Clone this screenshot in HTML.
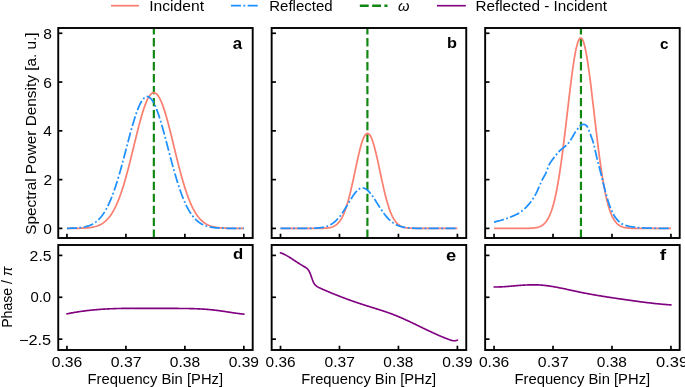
<!DOCTYPE html>
<html><head><meta charset="utf-8"><title>Spectral Power Density</title>
<style>
html,body{margin:0;padding:0;background:#fff;}
svg{display:block;will-change:transform;}
text{font-family:"Liberation Sans",sans-serif;fill:#000;}
.red{fill:none;stroke:#fa8072;stroke-width:1.75;stroke-linejoin:round;}
.blue{fill:none;stroke:#1e90ff;stroke-width:1.75;stroke-dasharray:10.1 2.4 1.85 2.4;stroke-linejoin:round;}
.purple{fill:none;stroke:#800080;stroke-width:1.65;stroke-linejoin:round;stroke-linecap:round;}
.green{fill:none;stroke:#128812;stroke-width:2.2;stroke-dasharray:8.4 3.57;}
.sp{fill:none;stroke:#000;stroke-width:1.9;stroke-linecap:square;}
.tk{stroke:#000;stroke-width:1.7;}
.t{font-size:14px;}
.b{font-size:14px;font-weight:bold;}
</style></head><body>
<svg width="685" height="387" viewBox="0 0 685 387">
<line x1="111" y1="5.7" x2="139" y2="5.7" class="red"/>
<line x1="230.9" y1="5.7" x2="258.1" y2="5.7" class="blue"/>
<line x1="359.8" y1="5.7" x2="387.5" y2="5.7" class="green" style="stroke-width:2.6;stroke-dasharray:8.9 3.4"/>
<line x1="437" y1="5.7" x2="465.8" y2="5.7" class="purple" style="stroke-linecap:butt"/>
<clipPath id="ct0"><rect x="58.10" y="28.00" width="194.60" height="210.00"/></clipPath>
<clipPath id="cb0"><rect x="58.10" y="245.00" width="194.60" height="105.00"/></clipPath>
<clipPath id="ct1"><rect x="271.65" y="28.00" width="194.60" height="210.00"/></clipPath>
<clipPath id="cb1"><rect x="271.65" y="245.00" width="194.60" height="105.00"/></clipPath>
<clipPath id="ct2"><rect x="485.20" y="28.00" width="194.60" height="210.00"/></clipPath>
<clipPath id="cb2"><rect x="485.20" y="245.00" width="194.60" height="105.00"/></clipPath>
<g clip-path="url(#ct0)"><line x1="153.85" y1="238.00" x2="153.85" y2="28.00" class="green"/></g>
<g clip-path="url(#ct1)"><line x1="367.40" y1="238.00" x2="367.40" y2="28.00" class="green"/></g>
<g clip-path="url(#ct2)"><line x1="580.95" y1="238.00" x2="580.95" y2="28.00" class="green"/></g>
<path d="M66.95 228.39 L67.83 228.39 L68.72 228.38 L69.61 228.38 L70.50 228.38 L71.39 228.37 L72.28 228.37 L73.17 228.36 L74.06 228.35 L74.95 228.34 L75.84 228.33 L76.72 228.32 L77.61 228.31 L78.50 228.29 L79.39 228.27 L80.28 228.24 L81.17 228.22 L82.06 228.18 L82.95 228.15 L83.84 228.10 L84.73 228.05 L85.61 228.00 L86.50 227.93 L87.39 227.86 L88.28 227.77 L89.17 227.67 L90.06 227.56 L90.95 227.44 L91.84 227.29 L92.73 227.13 L93.62 226.95 L94.50 226.74 L95.39 226.51 L96.28 226.25 L97.17 225.96 L98.06 225.63 L98.95 225.27 L99.84 224.86 L100.73 224.42 L101.62 223.92 L102.51 223.38 L103.39 222.77 L104.28 222.11 L105.17 221.39 L106.06 220.59 L106.95 219.73 L107.84 218.78 L108.73 217.76 L109.62 216.65 L110.51 215.45 L111.39 214.15 L112.28 212.75 L113.17 211.26 L114.06 209.65 L114.95 207.94 L115.84 206.11 L116.73 204.17 L117.62 202.11 L118.51 199.94 L119.40 197.64 L120.28 195.23 L121.17 192.69 L122.06 190.04 L122.95 187.27 L123.84 184.39 L124.73 181.40 L125.62 178.30 L126.51 175.11 L127.40 171.83 L128.29 168.46 L129.17 165.02 L130.06 161.51 L130.95 157.95 L131.84 154.34 L132.73 150.70 L133.62 147.05 L134.51 143.39 L135.40 139.74 L136.29 136.12 L137.18 132.54 L138.06 129.02 L138.95 125.57 L139.84 122.22 L140.73 118.97 L141.62 115.84 L142.51 112.85 L143.40 110.02 L144.29 107.36 L145.18 104.88 L146.07 102.60 L146.95 100.53 L147.84 98.68 L148.73 97.07 L149.62 95.69 L150.51 94.57 L151.40 93.71 L152.29 93.11 L153.18 92.77 L154.07 92.70 L154.96 92.90 L155.84 93.37 L156.73 94.10 L157.62 95.09 L158.51 96.33 L159.40 97.82 L160.29 99.55 L161.18 101.51 L162.07 103.68 L162.96 106.06 L163.85 108.63 L164.73 111.38 L165.62 114.29 L166.51 117.35 L167.40 120.54 L168.29 123.84 L169.18 127.24 L170.07 130.73 L170.96 134.28 L171.85 137.88 L172.74 141.52 L173.62 145.17 L174.51 148.83 L175.40 152.48 L176.29 156.10 L177.18 159.69 L178.07 163.23 L178.96 166.70 L179.85 170.11 L180.74 173.44 L181.63 176.68 L182.51 179.82 L183.40 182.87 L184.29 185.81 L185.18 188.63 L186.07 191.34 L186.96 193.94 L187.85 196.42 L188.74 198.77 L189.63 201.01 L190.52 203.13 L191.40 205.13 L192.29 207.02 L193.18 208.79 L194.07 210.45 L194.96 212.00 L195.85 213.45 L196.74 214.79 L197.63 216.04 L198.52 217.20 L199.41 218.27 L200.29 219.25 L201.18 220.16 L202.07 220.99 L202.96 221.75 L203.85 222.44 L204.74 223.08 L205.63 223.65 L206.52 224.17 L207.41 224.64 L208.29 225.07 L209.18 225.45 L210.07 225.79 L210.96 226.10 L211.85 226.38 L212.74 226.62 L213.63 226.84 L214.52 227.04 L215.41 227.21 L216.30 227.36 L217.18 227.50 L218.07 227.62 L218.96 227.72 L219.85 227.82 L220.74 227.90 L221.63 227.97 L222.52 228.03 L223.41 228.08 L224.30 228.13 L225.19 228.17 L226.07 228.20 L226.96 228.23 L227.85 228.26 L228.74 228.28 L229.63 228.30 L230.52 228.31 L231.41 228.33 L232.30 228.34 L233.19 228.35 L234.08 228.36 L234.96 228.36 L235.85 228.37 L236.74 228.37 L237.63 228.38 L238.52 228.38 L239.41 228.39 L240.30 228.39 L241.19 228.39 L242.08 228.39 L242.97 228.39 L243.85 228.39" class="red" clip-path="url(#ct0)"/>
<path d="M66.95 228.32 L67.83 228.30 L68.72 228.29 L69.61 228.27 L70.50 228.24 L71.39 228.22 L72.28 228.19 L73.17 228.15 L74.06 228.11 L74.95 228.06 L75.84 228.01 L76.72 227.95 L77.61 227.88 L78.50 227.81 L79.39 227.72 L80.28 227.62 L81.17 227.50 L82.06 227.37 L82.95 227.23 L83.84 227.07 L84.73 226.89 L85.61 226.68 L86.50 226.46 L87.39 226.20 L88.28 225.92 L89.17 225.61 L90.06 225.26 L90.95 224.87 L91.84 224.45 L92.73 223.98 L93.62 223.47 L94.50 222.91 L95.39 222.29 L96.28 221.62 L97.17 220.88 L98.06 220.09 L98.95 219.22 L99.84 218.28 L100.73 217.27 L101.62 216.18 L102.51 215.00 L103.39 213.74 L104.28 212.39 L105.17 210.94 L106.06 209.40 L106.95 207.76 L107.84 206.02 L108.73 204.17 L109.62 202.22 L110.51 200.17 L111.39 198.01 L112.28 195.74 L113.17 193.37 L114.06 190.89 L114.95 188.31 L115.84 185.63 L116.73 182.85 L117.62 179.98 L118.51 177.03 L119.40 173.99 L120.28 170.87 L121.17 167.69 L122.06 164.45 L122.95 161.15 L123.84 157.81 L124.73 154.44 L125.62 151.05 L126.51 147.65 L127.40 144.26 L128.29 140.88 L129.17 137.53 L130.06 134.22 L130.95 130.96 L131.84 127.78 L132.73 124.68 L133.62 121.68 L134.51 118.78 L135.40 116.02 L136.29 113.39 L137.18 110.91 L138.06 108.60 L138.95 106.46 L139.84 104.51 L140.73 102.76 L141.62 101.21 L142.51 99.87 L143.40 98.76 L144.29 97.87 L145.18 97.21 L146.07 96.79 L146.95 96.61 L147.84 96.66 L148.73 96.95 L149.62 97.48 L150.51 98.24 L151.40 99.23 L152.29 100.44 L153.18 101.88 L154.07 103.52 L154.96 105.36 L155.84 107.40 L156.73 109.62 L157.62 112.00 L158.51 114.55 L159.40 117.24 L160.29 120.06 L161.18 123.01 L162.07 126.06 L162.96 129.19 L163.85 132.41 L164.73 135.69 L165.62 139.02 L166.51 142.39 L167.40 145.78 L168.29 149.18 L169.18 152.57 L170.07 155.96 L170.96 159.31 L171.85 162.63 L172.74 165.91 L173.62 169.12 L174.51 172.28 L175.40 175.36 L176.29 178.36 L177.18 181.28 L178.07 184.11 L178.96 186.84 L179.85 189.48 L180.74 192.01 L181.63 194.44 L182.51 196.77 L183.40 198.99 L184.29 201.10 L185.18 203.11 L186.07 205.01 L186.96 206.81 L187.85 208.51 L188.74 210.10 L189.63 211.60 L190.52 213.00 L191.40 214.32 L192.29 215.54 L193.18 216.68 L194.07 217.73 L194.96 218.71 L195.85 219.62 L196.74 220.45 L197.63 221.22 L198.52 221.93 L199.41 222.57 L200.29 223.17 L201.18 223.71 L202.07 224.20 L202.96 224.65 L203.85 225.05 L204.74 225.42 L205.63 225.75 L206.52 226.05 L207.41 226.32 L208.29 226.56 L209.18 226.78 L210.07 226.97 L210.96 227.14 L211.85 227.30 L212.74 227.43 L213.63 227.56 L214.52 227.66 L215.41 227.76 L216.30 227.84 L217.18 227.92 L218.07 227.98 L218.96 228.04 L219.85 228.09 L220.74 228.13 L221.63 228.17 L222.52 228.20 L223.41 228.23 L224.30 228.25 L225.19 228.27 L226.07 228.29 L226.96 228.31 L227.85 228.32 L228.74 228.33 L229.63 228.34 L230.52 228.35 L231.41 228.36 L232.30 228.37 L233.19 228.37 L234.08 228.38 L234.96 228.38 L235.85 228.38 L236.74 228.39 L237.63 228.39 L238.52 228.39 L239.41 228.39 L240.30 228.39 L241.19 228.39 L242.08 228.40 L242.97 228.40 L243.85 228.40" class="blue" clip-path="url(#ct0)"/>
<path d="M280.50 228.40 L281.38 228.40 L282.27 228.40 L283.16 228.40 L284.05 228.40 L284.94 228.40 L285.83 228.40 L286.72 228.40 L287.61 228.40 L288.50 228.40 L289.39 228.40 L290.27 228.40 L291.16 228.40 L292.05 228.40 L292.94 228.40 L293.83 228.40 L294.72 228.40 L295.61 228.40 L296.50 228.40 L297.39 228.40 L298.28 228.40 L299.16 228.40 L300.05 228.40 L300.94 228.40 L301.83 228.40 L302.72 228.40 L303.61 228.40 L304.50 228.40 L305.39 228.40 L306.28 228.40 L307.17 228.40 L308.05 228.40 L308.94 228.40 L309.83 228.40 L310.72 228.40 L311.61 228.40 L312.50 228.40 L313.39 228.40 L314.28 228.39 L315.17 228.39 L316.06 228.39 L316.94 228.38 L317.83 228.38 L318.72 228.37 L319.61 228.36 L320.50 228.35 L321.39 228.33 L322.28 228.31 L323.17 228.28 L324.06 228.24 L324.94 228.20 L325.83 228.14 L326.72 228.06 L327.61 227.96 L328.50 227.85 L329.39 227.70 L330.28 227.52 L331.17 227.30 L332.06 227.03 L332.95 226.70 L333.83 226.31 L334.72 225.84 L335.61 225.29 L336.50 224.63 L337.39 223.87 L338.28 222.97 L339.17 221.94 L340.06 220.76 L340.95 219.41 L341.84 217.87 L342.72 216.14 L343.61 214.21 L344.50 212.06 L345.39 209.69 L346.28 207.10 L347.17 204.28 L348.06 201.23 L348.95 197.97 L349.84 194.49 L350.73 190.83 L351.61 187.00 L352.50 183.03 L353.39 178.94 L354.28 174.78 L355.17 170.59 L356.06 166.39 L356.95 162.26 L357.84 158.22 L358.73 154.34 L359.62 150.66 L360.50 147.23 L361.39 144.10 L362.28 141.31 L363.17 138.90 L364.06 136.90 L364.95 135.34 L365.84 134.24 L366.73 133.62 L367.62 133.45 L368.51 133.75 L369.39 134.51 L370.28 135.74 L371.17 137.42 L372.06 139.54 L372.95 142.06 L373.84 144.96 L374.73 148.18 L375.62 151.68 L376.51 155.43 L377.40 159.36 L378.28 163.43 L379.17 167.58 L380.06 171.78 L380.95 175.97 L381.84 180.12 L382.73 184.17 L383.62 188.11 L384.51 191.89 L385.40 195.50 L386.29 198.92 L387.17 202.12 L388.06 205.10 L388.95 207.86 L389.84 210.39 L390.73 212.70 L391.62 214.78 L392.51 216.66 L393.40 218.33 L394.29 219.81 L395.18 221.11 L396.06 222.25 L396.95 223.24 L397.84 224.10 L398.73 224.83 L399.62 225.45 L400.51 225.98 L401.40 226.43 L402.29 226.80 L403.18 227.11 L404.07 227.36 L404.95 227.57 L405.84 227.74 L406.73 227.88 L407.62 227.99 L408.51 228.08 L409.40 228.15 L410.29 228.21 L411.18 228.25 L412.07 228.29 L412.96 228.32 L413.84 228.34 L414.73 228.35 L415.62 228.36 L416.51 228.37 L417.40 228.38 L418.29 228.39 L419.18 228.39 L420.07 228.39 L420.96 228.39 L421.84 228.40 L422.73 228.40 L423.62 228.40 L424.51 228.40 L425.40 228.40 L426.29 228.40 L427.18 228.40 L428.07 228.40 L428.96 228.40 L429.85 228.40 L430.73 228.40 L431.62 228.40 L432.51 228.40 L433.40 228.40 L434.29 228.40 L435.18 228.40 L436.07 228.40 L436.96 228.40 L437.85 228.40 L438.74 228.40 L439.62 228.40 L440.51 228.40 L441.40 228.40 L442.29 228.40 L443.18 228.40 L444.07 228.40 L444.96 228.40 L445.85 228.40 L446.74 228.40 L447.63 228.40 L448.51 228.40 L449.40 228.40 L450.29 228.40 L451.18 228.40 L452.07 228.40 L452.96 228.40 L453.85 228.40 L454.74 228.40 L455.63 228.40 L456.52 228.40 L457.40 228.40" class="red" clip-path="url(#ct1)"/>
<path d="M280.50 228.40 L281.38 228.40 L282.27 228.40 L283.16 228.40 L284.05 228.40 L284.94 228.40 L285.83 228.40 L286.72 228.40 L287.61 228.40 L288.50 228.40 L289.39 228.40 L290.27 228.40 L291.16 228.40 L292.05 228.40 L292.94 228.40 L293.83 228.40 L294.72 228.40 L295.61 228.40 L296.50 228.40 L297.39 228.40 L298.28 228.40 L299.16 228.40 L300.05 228.39 L300.94 228.39 L301.83 228.39 L302.72 228.39 L303.61 228.38 L304.50 228.38 L305.39 228.38 L306.28 228.37 L307.17 228.36 L308.05 228.35 L308.94 228.34 L309.83 228.33 L310.72 228.31 L311.61 228.29 L312.50 228.27 L313.39 228.24 L314.28 228.21 L315.17 228.16 L316.06 228.12 L316.94 228.06 L317.83 227.99 L318.72 227.91 L319.61 227.82 L320.50 227.71 L321.39 227.58 L322.28 227.44 L323.17 227.27 L324.06 227.08 L324.94 226.86 L325.83 226.61 L326.72 226.33 L327.61 226.01 L328.50 225.65 L329.39 225.25 L330.28 224.80 L331.17 224.31 L332.06 223.76 L332.95 223.15 L333.83 222.49 L334.72 221.77 L335.61 220.98 L336.50 220.13 L337.39 219.22 L338.28 218.24 L339.17 217.19 L340.06 216.08 L340.95 214.91 L341.84 213.68 L342.72 212.39 L343.61 211.05 L344.50 209.67 L345.39 208.25 L346.28 206.80 L347.17 205.32 L348.06 203.84 L348.95 202.35 L349.84 200.87 L350.73 199.41 L351.61 197.99 L352.50 196.61 L353.39 195.29 L354.28 194.04 L355.17 192.88 L356.06 191.81 L356.95 190.85 L357.84 190.01 L358.73 189.31 L359.62 188.73 L360.50 188.31 L361.39 188.04 L362.28 187.94 L363.17 188.00 L364.06 188.21 L364.95 188.56 L365.84 189.05 L366.73 189.66 L367.62 190.39 L368.51 191.24 L369.39 192.18 L370.28 193.22 L371.17 194.34 L372.06 195.53 L372.95 196.79 L373.84 198.09 L374.73 199.44 L375.62 200.82 L376.51 202.21 L377.40 203.61 L378.28 205.02 L379.17 206.41 L380.06 207.79 L380.95 209.14 L381.84 210.46 L382.73 211.74 L383.62 212.98 L384.51 214.18 L385.40 215.32 L386.29 216.40 L387.17 217.44 L388.06 218.41 L388.95 219.33 L389.84 220.18 L390.73 220.98 L391.62 221.73 L392.51 222.41 L393.40 223.05 L394.29 223.63 L395.18 224.16 L396.06 224.64 L396.95 225.08 L397.84 225.48 L398.73 225.83 L399.62 226.15 L400.51 226.44 L401.40 226.70 L402.29 226.92 L403.18 227.12 L404.07 227.30 L404.95 227.45 L405.84 227.59 L406.73 227.71 L407.62 227.81 L408.51 227.90 L409.40 227.98 L410.29 228.04 L411.18 228.10 L412.07 228.15 L412.96 228.19 L413.84 228.22 L414.73 228.25 L415.62 228.28 L416.51 228.30 L417.40 228.32 L418.29 228.33 L419.18 228.34 L420.07 228.36 L420.96 228.36 L421.84 228.37 L422.73 228.38 L423.62 228.38 L424.51 228.38 L425.40 228.39 L426.29 228.39 L427.18 228.39 L428.07 228.39 L428.96 228.40 L429.85 228.40 L430.73 228.40 L431.62 228.40 L432.51 228.40 L433.40 228.40 L434.29 228.40 L435.18 228.40 L436.07 228.40 L436.96 228.40 L437.85 228.40 L438.74 228.40 L439.62 228.40 L440.51 228.40 L441.40 228.40 L442.29 228.40 L443.18 228.40 L444.07 228.40 L444.96 228.40 L445.85 228.40 L446.74 228.40 L447.63 228.40 L448.51 228.40 L449.40 228.40 L450.29 228.40 L451.18 228.40 L452.07 228.40 L452.96 228.40 L453.85 228.40 L454.74 228.40 L455.63 228.40 L456.52 228.40 L457.40 228.40" class="blue" clip-path="url(#ct1)"/>
<path d="M494.05 228.40 L494.93 228.40 L495.82 228.40 L496.71 228.40 L497.60 228.40 L498.49 228.40 L499.38 228.40 L500.27 228.40 L501.16 228.40 L502.05 228.40 L502.94 228.40 L503.82 228.40 L504.71 228.40 L505.60 228.40 L506.49 228.40 L507.38 228.40 L508.27 228.40 L509.16 228.40 L510.05 228.40 L510.94 228.40 L511.83 228.40 L512.71 228.40 L513.60 228.40 L514.49 228.40 L515.38 228.40 L516.27 228.40 L517.16 228.40 L518.05 228.40 L518.94 228.40 L519.83 228.39 L520.72 228.39 L521.60 228.39 L522.49 228.38 L523.38 228.38 L524.27 228.37 L525.16 228.36 L526.05 228.35 L526.94 228.34 L527.83 228.32 L528.72 228.30 L529.61 228.27 L530.49 228.23 L531.38 228.18 L532.27 228.12 L533.16 228.05 L534.05 227.96 L534.94 227.84 L535.83 227.70 L536.72 227.53 L537.61 227.32 L538.49 227.06 L539.38 226.76 L540.27 226.39 L541.16 225.95 L542.05 225.43 L542.94 224.81 L543.83 224.08 L544.72 223.22 L545.61 222.23 L546.50 221.07 L547.38 219.74 L548.27 218.21 L549.16 216.46 L550.05 214.47 L550.94 212.23 L551.83 209.70 L552.72 206.87 L553.61 203.73 L554.50 200.25 L555.39 196.42 L556.27 192.23 L557.16 187.67 L558.05 182.74 L558.94 177.43 L559.83 171.76 L560.72 165.73 L561.61 159.37 L562.50 152.69 L563.39 145.73 L564.28 138.53 L565.16 131.13 L566.05 123.58 L566.94 115.95 L567.83 108.29 L568.72 100.67 L569.61 93.16 L570.50 85.84 L571.39 78.78 L572.28 72.07 L573.17 65.77 L574.05 59.96 L574.94 54.70 L575.83 50.08 L576.72 46.13 L577.61 42.91 L578.50 40.47 L579.39 38.82 L580.28 38.01 L581.17 38.03 L582.06 38.89 L582.94 40.57 L583.83 43.05 L584.72 46.31 L585.61 50.29 L586.50 54.95 L587.39 60.23 L588.28 66.07 L589.17 72.39 L590.06 79.12 L590.95 86.19 L591.83 93.53 L592.72 101.04 L593.61 108.66 L594.50 116.33 L595.39 123.96 L596.28 131.50 L597.17 138.89 L598.06 146.08 L598.95 153.03 L599.84 159.69 L600.72 166.04 L601.61 172.05 L602.50 177.70 L603.39 182.99 L604.28 187.90 L605.17 192.45 L606.06 196.62 L606.95 200.43 L607.84 203.89 L608.73 207.02 L609.61 209.83 L610.50 212.34 L611.39 214.58 L612.28 216.55 L613.17 218.29 L614.06 219.81 L614.95 221.13 L615.84 222.28 L616.73 223.27 L617.62 224.12 L618.50 224.84 L619.39 225.45 L620.28 225.97 L621.17 226.41 L622.06 226.77 L622.95 227.08 L623.84 227.33 L624.73 227.54 L625.62 227.71 L626.51 227.85 L627.39 227.96 L628.28 228.05 L629.17 228.13 L630.06 228.18 L630.95 228.23 L631.84 228.27 L632.73 228.30 L633.62 228.32 L634.51 228.34 L635.39 228.35 L636.28 228.37 L637.17 228.37 L638.06 228.38 L638.95 228.38 L639.84 228.39 L640.73 228.39 L641.62 228.39 L642.51 228.40 L643.40 228.40 L644.28 228.40 L645.17 228.40 L646.06 228.40 L646.95 228.40 L647.84 228.40 L648.73 228.40 L649.62 228.40 L650.51 228.40 L651.40 228.40 L652.29 228.40 L653.17 228.40 L654.06 228.40 L654.95 228.40 L655.84 228.40 L656.73 228.40 L657.62 228.40 L658.51 228.40 L659.40 228.40 L660.29 228.40 L661.18 228.40 L662.06 228.40 L662.95 228.40 L663.84 228.40 L664.73 228.40 L665.62 228.40 L666.51 228.40 L667.40 228.40 L668.29 228.40 L669.18 228.40 L670.07 228.40 L670.95 228.40" class="red" clip-path="url(#ct2)"/>
<path d="M494.05 222.05 L494.93 221.85 L495.82 221.64 L496.71 221.42 L497.60 221.20 L498.49 220.96 L499.38 220.72 L500.27 220.48 L501.16 220.22 L502.05 219.96 L502.94 219.70 L503.82 219.42 L504.71 219.14 L505.60 218.85 L506.49 218.54 L507.38 218.23 L508.27 217.91 L509.16 217.58 L510.05 217.24 L510.94 216.89 L511.83 216.53 L512.71 216.17 L513.60 215.80 L514.49 215.41 L515.38 215.00 L516.27 214.57 L517.16 214.12 L518.05 213.63 L518.94 213.10 L519.83 212.52 L520.72 211.90 L521.60 211.24 L522.49 210.53 L523.38 209.80 L524.27 209.03 L525.16 208.21 L526.05 207.34 L526.94 206.41 L527.83 205.44 L528.72 204.41 L529.61 203.33 L530.49 202.21 L531.38 201.02 L532.27 199.75 L533.16 198.40 L534.05 196.97 L534.94 195.46 L535.83 193.84 L536.72 192.06 L537.61 190.15 L538.49 188.15 L539.38 186.11 L540.27 184.08 L541.16 182.10 L542.05 180.21 L542.94 178.46 L543.83 176.86 L544.72 175.29 L545.61 173.61 L546.50 171.65 L547.38 169.28 L548.27 166.83 L549.16 164.67 L550.05 163.06 L550.94 161.76 L551.83 160.57 L552.72 159.35 L553.61 158.12 L554.50 156.91 L555.39 155.75 L556.27 154.62 L557.16 153.51 L558.05 152.48 L558.94 151.55 L559.83 150.70 L560.72 149.90 L561.61 149.13 L562.50 148.39 L563.39 147.69 L564.28 147.01 L565.16 146.29 L566.05 145.50 L566.94 144.67 L567.83 143.77 L568.72 142.75 L569.61 141.56 L570.50 140.22 L571.39 138.80 L572.28 137.33 L573.17 135.73 L574.05 134.11 L574.94 132.60 L575.83 131.28 L576.72 130.07 L577.61 128.94 L578.50 127.79 L579.39 126.64 L580.28 125.75 L581.17 125.20 L582.06 124.73 L582.94 124.40 L583.83 124.30 L584.72 124.50 L585.61 124.94 L586.50 125.56 L587.39 126.96 L588.28 128.94 L589.17 131.06 L590.06 133.45 L590.95 135.90 L591.83 138.20 L592.72 140.64 L593.61 143.50 L594.50 147.21 L595.39 151.38 L596.28 155.27 L597.17 158.88 L598.06 162.41 L598.95 165.91 L599.84 169.43 L600.72 172.95 L601.61 176.47 L602.50 180.01 L603.39 183.67 L604.28 187.33 L605.17 190.84 L606.06 194.08 L606.95 197.22 L607.84 200.24 L608.73 203.07 L609.61 205.64 L610.50 207.89 L611.39 210.02 L612.28 212.02 L613.17 213.86 L614.06 215.49 L614.95 216.89 L615.84 218.04 L616.73 219.11 L617.62 220.11 L618.50 221.04 L619.39 221.89 L620.28 222.66 L621.17 223.33 L622.06 223.89 L622.95 224.35 L623.84 224.71 L624.73 225.04 L625.62 225.34 L626.51 225.62 L627.39 225.87 L628.28 226.11 L629.17 226.32 L630.06 226.51 L630.95 226.68 L631.84 226.83 L632.73 226.97 L633.62 227.08 L634.51 227.18 L635.39 227.27 L636.28 227.36 L637.17 227.45 L638.06 227.53 L638.95 227.61 L639.84 227.68 L640.73 227.74 L641.62 227.81 L642.51 227.86 L643.40 227.91 L644.28 227.96 L645.17 228.00 L646.06 228.04 L646.95 228.07 L647.84 228.10 L648.73 228.12 L649.62 228.14 L650.51 228.16 L651.40 228.18 L652.29 228.20 L653.17 228.22 L654.06 228.23 L654.95 228.25 L655.84 228.26 L656.73 228.27 L657.62 228.28 L658.51 228.29 L659.40 228.30 L660.29 228.30 L661.18 228.31 L662.06 228.31 L662.95 228.32 L663.84 228.33 L664.73 228.33 L665.62 228.33 L666.51 228.34 L667.40 228.34 L668.29 228.35 L669.18 228.35 L670.07 228.35 L670.95 228.35" class="blue" clip-path="url(#ct2)"/>
<path d="M66.95 313.86 L67.54 313.74 L68.13 313.62 L68.72 313.50 L69.31 313.38 L69.90 313.26 L70.50 313.15 L71.09 313.04 L71.68 312.93 L72.27 312.82 L72.86 312.71 L73.45 312.61 L74.05 312.50 L74.64 312.40 L75.23 312.30 L75.82 312.20 L76.41 312.10 L77.00 312.01 L77.60 311.92 L78.19 311.82 L78.78 311.73 L79.37 311.64 L79.96 311.55 L80.55 311.47 L81.15 311.38 L81.74 311.30 L82.33 311.22 L82.92 311.14 L83.51 311.06 L84.10 310.98 L84.70 310.90 L85.29 310.83 L85.88 310.76 L86.47 310.68 L87.06 310.61 L87.65 310.54 L88.25 310.48 L88.84 310.41 L89.43 310.34 L90.02 310.28 L90.61 310.22 L91.20 310.16 L91.80 310.10 L92.39 310.04 L92.98 309.98 L93.57 309.92 L94.16 309.87 L94.75 309.81 L95.35 309.76 L95.94 309.71 L96.53 309.66 L97.12 309.61 L97.71 309.56 L98.30 309.52 L98.90 309.47 L99.49 309.42 L100.08 309.38 L100.67 309.34 L101.26 309.30 L101.85 309.26 L102.45 309.22 L103.04 309.18 L103.63 309.14 L104.22 309.10 L104.81 309.07 L105.40 309.04 L106.00 309.00 L106.59 308.97 L107.18 308.94 L107.77 308.91 L108.36 308.88 L108.95 308.85 L109.55 308.82 L110.14 308.79 L110.73 308.77 L111.32 308.74 L111.91 308.72 L112.50 308.70 L113.10 308.67 L113.69 308.65 L114.28 308.63 L114.87 308.61 L115.46 308.59 L116.05 308.57 L116.65 308.55 L117.24 308.54 L117.83 308.52 L118.42 308.50 L119.01 308.49 L119.60 308.47 L120.20 308.46 L120.79 308.45 L121.38 308.43 L121.97 308.42 L122.56 308.41 L123.15 308.40 L123.75 308.39 L124.34 308.38 L124.93 308.37 L125.52 308.36 L126.11 308.36 L126.70 308.35 L127.30 308.34 L127.89 308.34 L128.48 308.33 L129.07 308.33 L129.66 308.32 L130.25 308.32 L130.85 308.31 L131.44 308.31 L132.03 308.31 L132.62 308.30 L133.21 308.30 L133.80 308.30 L134.40 308.30 L134.99 308.30 L135.58 308.30 L136.17 308.30 L136.76 308.30 L137.35 308.30 L137.95 308.30 L138.54 308.30 L139.13 308.30 L139.72 308.30 L140.31 308.30 L140.90 308.31 L141.50 308.31 L142.09 308.31 L142.68 308.31 L143.27 308.32 L143.86 308.32 L144.45 308.32 L145.05 308.33 L145.64 308.33 L146.23 308.33 L146.82 308.34 L147.41 308.34 L148.00 308.34 L148.60 308.35 L149.19 308.35 L149.78 308.36 L150.37 308.36 L150.96 308.36 L151.55 308.37 L152.15 308.37 L152.74 308.38 L153.33 308.38 L153.92 308.38 L154.51 308.39 L155.10 308.39 L155.70 308.40 L156.29 308.40 L156.88 308.40 L157.47 308.41 L158.06 308.41 L158.65 308.41 L159.25 308.42 L159.84 308.42 L160.43 308.42 L161.02 308.43 L161.61 308.43 L162.20 308.43 L162.80 308.43 L163.39 308.43 L163.98 308.44 L164.57 308.44 L165.16 308.44 L165.75 308.44 L166.35 308.44 L166.94 308.44 L167.53 308.44 L168.12 308.44 L168.71 308.44 L169.30 308.44 L169.90 308.44 L170.49 308.44 L171.08 308.44 L171.67 308.44 L172.26 308.44 L172.85 308.44 L173.45 308.44 L174.04 308.44 L174.63 308.44 L175.22 308.44 L175.81 308.44 L176.40 308.44 L177.00 308.44 L177.59 308.44 L178.18 308.44 L178.77 308.45 L179.36 308.45 L179.95 308.45 L180.55 308.45 L181.14 308.46 L181.73 308.46 L182.32 308.46 L182.91 308.47 L183.50 308.47 L184.10 308.48 L184.69 308.49 L185.28 308.49 L185.87 308.50 L186.46 308.51 L187.05 308.52 L187.65 308.53 L188.24 308.54 L188.83 308.55 L189.42 308.56 L190.01 308.57 L190.60 308.58 L191.20 308.60 L191.79 308.61 L192.38 308.63 L192.97 308.65 L193.56 308.66 L194.15 308.68 L194.75 308.70 L195.34 308.72 L195.93 308.74 L196.52 308.77 L197.11 308.79 L197.70 308.82 L198.30 308.84 L198.89 308.87 L199.48 308.90 L200.07 308.93 L200.66 308.96 L201.25 308.99 L201.85 309.02 L202.44 309.06 L203.03 309.09 L203.62 309.13 L204.21 309.17 L204.80 309.21 L205.40 309.25 L205.99 309.30 L206.58 309.34 L207.17 309.39 L207.76 309.44 L208.35 309.48 L208.95 309.54 L209.54 309.59 L210.13 309.64 L210.72 309.70 L211.31 309.76 L211.90 309.81 L212.50 309.88 L213.09 309.94 L213.68 310.00 L214.27 310.07 L214.86 310.14 L215.45 310.21 L216.05 310.28 L216.64 310.35 L217.23 310.43 L217.82 310.51 L218.41 310.59 L219.00 310.67 L219.60 310.75 L220.19 310.83 L220.78 310.92 L221.37 311.00 L221.96 311.09 L222.55 311.17 L223.15 311.26 L223.74 311.35 L224.33 311.44 L224.92 311.53 L225.51 311.62 L226.10 311.71 L226.70 311.80 L227.29 311.89 L227.88 311.99 L228.47 312.08 L229.06 312.17 L229.65 312.26 L230.25 312.35 L230.84 312.44 L231.43 312.53 L232.02 312.62 L232.61 312.71 L233.20 312.80 L233.80 312.88 L234.39 312.97 L234.98 313.06 L235.57 313.14 L236.16 313.22 L236.75 313.30 L237.35 313.38 L237.94 313.46 L238.53 313.54 L239.12 313.62 L239.71 313.69 L240.30 313.76 L240.90 313.83 L241.49 313.90 L242.08 313.96 L242.67 314.03 L243.26 314.09 L243.85 314.15" class="purple" clip-path="url(#cb0)"/>
<path d="M280.50 252.82 L280.94 252.96 L281.38 253.12 L281.83 253.28 L282.27 253.45 L282.71 253.63 L283.16 253.82 L283.60 254.02 L284.04 254.23 L284.49 254.44 L284.93 254.66 L285.37 254.89 L285.82 255.12 L286.26 255.36 L286.70 255.61 L287.15 255.86 L287.59 256.12 L288.03 256.38 L288.48 256.64 L288.92 256.92 L289.36 257.19 L289.81 257.47 L290.25 257.75 L290.69 258.03 L291.14 258.32 L291.58 258.61 L292.02 258.90 L292.47 259.19 L292.91 259.48 L293.35 259.78 L293.80 260.07 L294.24 260.37 L294.68 260.66 L295.13 260.96 L295.57 261.25 L296.01 261.55 L296.46 261.84 L296.90 262.13 L297.34 262.42 L297.79 262.71 L298.23 262.99 L298.67 263.27 L299.12 263.55 L299.56 263.83 L300.00 264.10 L300.45 264.37 L300.89 264.63 L301.33 264.89 L301.78 265.15 L302.22 265.41 L302.66 265.67 L303.11 265.92 L303.55 266.18 L303.99 266.44 L304.44 266.70 L304.88 266.97 L305.32 267.25 L305.77 267.55 L306.21 267.87 L306.65 268.22 L307.10 268.60 L307.54 269.04 L307.99 269.54 L308.43 270.13 L308.87 270.81 L309.32 271.60 L309.76 272.52 L310.20 273.56 L310.65 274.72 L311.09 275.96 L311.53 277.24 L311.98 278.52 L312.42 279.75 L312.86 280.88 L313.31 281.90 L313.75 282.80 L314.19 283.57 L314.64 284.22 L315.08 284.78 L315.52 285.26 L315.97 285.68 L316.41 286.04 L316.85 286.36 L317.30 286.65 L317.74 286.91 L318.18 287.16 L318.63 287.40 L319.07 287.62 L319.51 287.84 L319.96 288.05 L320.40 288.26 L320.84 288.46 L321.29 288.66 L321.73 288.86 L322.17 289.06 L322.62 289.26 L323.06 289.45 L323.50 289.65 L323.95 289.84 L324.39 290.03 L324.83 290.22 L325.28 290.41 L325.72 290.60 L326.16 290.79 L326.61 290.98 L327.05 291.17 L327.49 291.36 L327.94 291.55 L328.38 291.73 L328.82 291.92 L329.27 292.10 L329.71 292.29 L330.15 292.47 L330.60 292.66 L331.04 292.84 L331.48 293.03 L331.93 293.21 L332.37 293.39 L332.81 293.57 L333.26 293.75 L333.70 293.93 L334.14 294.11 L334.59 294.29 L335.03 294.47 L335.47 294.65 L335.92 294.83 L336.36 295.00 L336.80 295.18 L337.25 295.35 L337.69 295.53 L338.14 295.71 L338.58 295.88 L339.02 296.05 L339.47 296.23 L339.91 296.40 L340.35 296.57 L340.80 296.74 L341.24 296.91 L341.68 297.08 L342.13 297.25 L342.57 297.42 L343.01 297.59 L343.46 297.76 L343.90 297.93 L344.34 298.09 L344.79 298.26 L345.23 298.43 L345.67 298.59 L346.12 298.76 L346.56 298.92 L347.00 299.08 L347.45 299.25 L347.89 299.41 L348.33 299.57 L348.78 299.73 L349.22 299.89 L349.66 300.05 L350.11 300.21 L350.55 300.37 L350.99 300.53 L351.44 300.69 L351.88 300.84 L352.32 301.00 L352.77 301.16 L353.21 301.31 L353.65 301.47 L354.10 301.62 L354.54 301.78 L354.98 301.93 L355.43 302.08 L355.87 302.23 L356.31 302.38 L356.76 302.53 L357.20 302.69 L357.64 302.83 L358.09 302.98 L358.53 303.13 L358.97 303.28 L359.42 303.43 L359.86 303.57 L360.30 303.72 L360.75 303.86 L361.19 304.01 L361.63 304.15 L362.08 304.30 L362.52 304.44 L362.96 304.58 L363.41 304.72 L363.85 304.86 L364.29 305.01 L364.74 305.15 L365.18 305.29 L365.62 305.43 L366.07 305.56 L366.51 305.70 L366.95 305.84 L367.40 305.98 L367.84 306.12 L368.28 306.26 L368.73 306.39 L369.17 306.53 L369.62 306.67 L370.06 306.81 L370.50 306.94 L370.95 307.08 L371.39 307.22 L371.83 307.36 L372.28 307.49 L372.72 307.63 L373.16 307.77 L373.61 307.90 L374.05 308.04 L374.49 308.18 L374.94 308.32 L375.38 308.46 L375.82 308.59 L376.27 308.73 L376.71 308.87 L377.15 309.01 L377.60 309.15 L378.04 309.29 L378.48 309.43 L378.93 309.57 L379.37 309.71 L379.81 309.86 L380.26 310.00 L380.70 310.14 L381.14 310.28 L381.59 310.43 L382.03 310.57 L382.47 310.72 L382.92 310.87 L383.36 311.01 L383.80 311.16 L384.25 311.31 L384.69 311.46 L385.13 311.61 L385.58 311.76 L386.02 311.91 L386.46 312.06 L386.91 312.22 L387.35 312.37 L387.79 312.53 L388.24 312.68 L388.68 312.84 L389.12 313.00 L389.57 313.16 L390.01 313.32 L390.45 313.48 L390.90 313.64 L391.34 313.81 L391.78 313.97 L392.23 314.14 L392.67 314.31 L393.11 314.48 L393.56 314.65 L394.00 314.82 L394.44 314.99 L394.89 315.17 L395.33 315.35 L395.77 315.52 L396.22 315.70 L396.66 315.88 L397.10 316.06 L397.55 316.25 L397.99 316.43 L398.43 316.62 L398.88 316.80 L399.32 316.99 L399.76 317.18 L400.21 317.37 L400.65 317.56 L401.10 317.75 L401.54 317.95 L401.98 318.14 L402.43 318.34 L402.87 318.53 L403.31 318.73 L403.76 318.93 L404.20 319.13 L404.64 319.33 L405.09 319.53 L405.53 319.73 L405.97 319.93 L406.42 320.13 L406.86 320.34 L407.30 320.54 L407.75 320.75 L408.19 320.95 L408.63 321.16 L409.08 321.37 L409.52 321.58 L409.96 321.79 L410.41 321.99 L410.85 322.20 L411.29 322.41 L411.74 322.62 L412.18 322.84 L412.62 323.05 L413.07 323.26 L413.51 323.47 L413.95 323.68 L414.40 323.90 L414.84 324.11 L415.28 324.32 L415.73 324.54 L416.17 324.75 L416.61 324.97 L417.06 325.18 L417.50 325.39 L417.94 325.61 L418.39 325.82 L418.83 326.04 L419.27 326.25 L419.72 326.47 L420.16 326.68 L420.60 326.90 L421.05 327.11 L421.49 327.33 L421.93 327.54 L422.38 327.76 L422.82 327.97 L423.26 328.19 L423.71 328.40 L424.15 328.61 L424.59 328.83 L425.04 329.04 L425.48 329.26 L425.92 329.47 L426.37 329.68 L426.81 329.89 L427.25 330.10 L427.70 330.32 L428.14 330.53 L428.58 330.74 L429.03 330.95 L429.47 331.16 L429.91 331.37 L430.36 331.57 L430.80 331.78 L431.25 331.99 L431.69 332.20 L432.13 332.40 L432.58 332.61 L433.02 332.81 L433.46 333.02 L433.91 333.22 L434.35 333.42 L434.79 333.62 L435.24 333.82 L435.68 334.02 L436.12 334.22 L436.57 334.42 L437.01 334.62 L437.45 334.81 L437.90 335.01 L438.34 335.20 L438.78 335.40 L439.23 335.59 L439.67 335.78 L440.11 335.97 L440.56 336.16 L441.00 336.35 L441.44 336.54 L441.89 336.72 L442.33 336.91 L442.77 337.09 L443.22 337.27 L443.66 337.45 L444.10 337.63 L444.55 337.81 L444.99 337.99 L445.43 338.16 L445.88 338.34 L446.32 338.51 L446.76 338.68 L447.21 338.85 L447.65 339.02 L448.09 339.18 L448.54 339.35 L448.98 339.51 L449.42 339.67 L449.87 339.83 L450.31 339.98 L450.75 340.12 L451.20 340.25 L451.64 340.38 L452.08 340.48 L452.53 340.58 L452.97 340.65 L453.41 340.71 L453.86 340.74 L454.30 340.76 L454.74 340.75 L455.19 340.71 L455.63 340.65 L456.07 340.56 L456.52 340.44 L456.96 340.28 L457.40 340.09" class="purple" clip-path="url(#cb1)"/>
<path d="M494.05 286.97 L494.64 286.98 L495.23 286.98 L495.82 286.99 L496.41 286.98 L497.00 286.98 L497.60 286.97 L498.19 286.96 L498.78 286.94 L499.37 286.93 L499.96 286.91 L500.55 286.88 L501.15 286.86 L501.74 286.83 L502.33 286.80 L502.92 286.77 L503.51 286.73 L504.10 286.70 L504.70 286.66 L505.29 286.62 L505.88 286.58 L506.47 286.53 L507.06 286.49 L507.65 286.44 L508.25 286.40 L508.84 286.35 L509.43 286.30 L510.02 286.25 L510.61 286.20 L511.20 286.15 L511.80 286.09 L512.39 286.04 L512.98 285.99 L513.57 285.94 L514.16 285.89 L514.75 285.83 L515.35 285.78 L515.94 285.73 L516.53 285.68 L517.12 285.63 L517.71 285.58 L518.30 285.53 L518.90 285.48 L519.49 285.44 L520.08 285.39 L520.67 285.34 L521.26 285.30 L521.85 285.26 L522.45 285.22 L523.04 285.18 L523.63 285.14 L524.22 285.10 L524.81 285.07 L525.40 285.04 L526.00 285.01 L526.59 284.98 L527.18 284.95 L527.77 284.93 L528.36 284.90 L528.95 284.88 L529.55 284.87 L530.14 284.85 L530.73 284.84 L531.32 284.83 L531.91 284.82 L532.50 284.82 L533.10 284.82 L533.69 284.82 L534.28 284.82 L534.87 284.83 L535.46 284.84 L536.05 284.85 L536.65 284.87 L537.24 284.89 L537.83 284.92 L538.42 284.94 L539.01 284.98 L539.60 285.01 L540.20 285.05 L540.79 285.09 L541.38 285.14 L541.97 285.19 L542.56 285.24 L543.15 285.29 L543.75 285.35 L544.34 285.41 L544.93 285.47 L545.52 285.54 L546.11 285.61 L546.70 285.68 L547.30 285.76 L547.89 285.84 L548.48 285.92 L549.07 286.00 L549.66 286.08 L550.25 286.17 L550.85 286.26 L551.44 286.35 L552.03 286.45 L552.62 286.54 L553.21 286.64 L553.80 286.74 L554.40 286.84 L554.99 286.95 L555.58 287.05 L556.17 287.16 L556.76 287.27 L557.35 287.38 L557.95 287.49 L558.54 287.61 L559.13 287.72 L559.72 287.84 L560.31 287.95 L560.90 288.07 L561.50 288.19 L562.09 288.31 L562.68 288.44 L563.27 288.56 L563.86 288.68 L564.45 288.81 L565.05 288.93 L565.64 289.06 L566.23 289.19 L566.82 289.31 L567.41 289.44 L568.00 289.57 L568.60 289.70 L569.19 289.83 L569.78 289.96 L570.37 290.09 L570.96 290.22 L571.55 290.35 L572.15 290.47 L572.74 290.60 L573.33 290.73 L573.92 290.86 L574.51 290.99 L575.10 291.12 L575.70 291.25 L576.29 291.37 L576.88 291.50 L577.47 291.63 L578.06 291.75 L578.65 291.88 L579.25 292.00 L579.84 292.13 L580.43 292.25 L581.02 292.37 L581.61 292.49 L582.20 292.61 L582.80 292.73 L583.39 292.85 L583.98 292.96 L584.57 293.08 L585.16 293.19 L585.75 293.31 L586.35 293.42 L586.94 293.54 L587.53 293.65 L588.12 293.76 L588.71 293.87 L589.30 293.98 L589.90 294.09 L590.49 294.20 L591.08 294.30 L591.67 294.41 L592.26 294.52 L592.85 294.62 L593.45 294.73 L594.04 294.83 L594.63 294.93 L595.22 295.03 L595.81 295.14 L596.40 295.24 L597.00 295.34 L597.59 295.44 L598.18 295.54 L598.77 295.64 L599.36 295.74 L599.95 295.83 L600.55 295.93 L601.14 296.03 L601.73 296.12 L602.32 296.22 L602.91 296.31 L603.50 296.41 L604.10 296.50 L604.69 296.60 L605.28 296.69 L605.87 296.78 L606.46 296.87 L607.05 296.97 L607.65 297.06 L608.24 297.15 L608.83 297.24 L609.42 297.33 L610.01 297.42 L610.60 297.51 L611.20 297.60 L611.79 297.69 L612.38 297.78 L612.97 297.87 L613.56 297.95 L614.15 298.04 L614.75 298.13 L615.34 298.22 L615.93 298.30 L616.52 298.39 L617.11 298.48 L617.70 298.56 L618.30 298.65 L618.89 298.74 L619.48 298.82 L620.07 298.91 L620.66 298.99 L621.25 299.08 L621.85 299.17 L622.44 299.25 L623.03 299.34 L623.62 299.42 L624.21 299.51 L624.80 299.59 L625.40 299.68 L625.99 299.76 L626.58 299.85 L627.17 299.93 L627.76 300.01 L628.35 300.10 L628.95 300.18 L629.54 300.27 L630.13 300.35 L630.72 300.43 L631.31 300.52 L631.90 300.60 L632.50 300.68 L633.09 300.76 L633.68 300.85 L634.27 300.93 L634.86 301.01 L635.45 301.09 L636.05 301.17 L636.64 301.25 L637.23 301.33 L637.82 301.41 L638.41 301.49 L639.00 301.57 L639.60 301.65 L640.19 301.73 L640.78 301.81 L641.37 301.88 L641.96 301.96 L642.55 302.04 L643.15 302.11 L643.74 302.19 L644.33 302.26 L644.92 302.34 L645.51 302.41 L646.10 302.49 L646.70 302.56 L647.29 302.63 L647.88 302.70 L648.47 302.77 L649.06 302.84 L649.65 302.91 L650.25 302.98 L650.84 303.05 L651.43 303.12 L652.02 303.19 L652.61 303.25 L653.20 303.32 L653.80 303.38 L654.39 303.45 L654.98 303.51 L655.57 303.58 L656.16 303.64 L656.75 303.70 L657.35 303.76 L657.94 303.82 L658.53 303.88 L659.12 303.94 L659.71 303.99 L660.30 304.05 L660.90 304.11 L661.49 304.16 L662.08 304.21 L662.67 304.27 L663.26 304.32 L663.85 304.37 L664.45 304.42 L665.04 304.47 L665.63 304.52 L666.22 304.56 L666.81 304.61 L667.40 304.65 L668.00 304.70 L668.59 304.74 L669.18 304.78 L669.77 304.82 L670.36 304.86 L670.95 304.90" class="purple" clip-path="url(#cb2)"/>
<rect x="58.25" y="28.00" width="194.45" height="210.00" class="sp"/>
<line x1="66.95" y1="238.00" x2="66.95" y2="233.70" class="tk"/>
<line x1="125.92" y1="238.00" x2="125.92" y2="233.70" class="tk"/>
<line x1="184.88" y1="238.00" x2="184.88" y2="233.70" class="tk"/>
<line x1="243.85" y1="238.00" x2="243.85" y2="233.70" class="tk"/>
<rect x="58.25" y="245.00" width="194.45" height="105.00" class="sp"/>
<line x1="66.95" y1="350.00" x2="66.95" y2="345.70" class="tk"/>
<line x1="125.92" y1="350.00" x2="125.92" y2="345.70" class="tk"/>
<line x1="184.88" y1="350.00" x2="184.88" y2="345.70" class="tk"/>
<line x1="243.85" y1="350.00" x2="243.85" y2="345.70" class="tk"/>
<line x1="58.10" y1="228.40" x2="62.40" y2="228.40" class="tk"/>
<line x1="58.10" y1="179.62" x2="62.40" y2="179.62" class="tk"/>
<line x1="58.10" y1="130.84" x2="62.40" y2="130.84" class="tk"/>
<line x1="58.10" y1="82.06" x2="62.40" y2="82.06" class="tk"/>
<line x1="58.10" y1="33.28" x2="62.40" y2="33.28" class="tk"/>
<line x1="58.10" y1="255.40" x2="62.40" y2="255.40" class="tk"/>
<line x1="58.10" y1="297.28" x2="62.40" y2="297.28" class="tk"/>
<line x1="58.10" y1="339.15" x2="62.40" y2="339.15" class="tk"/>
<rect x="271.65" y="28.00" width="194.60" height="210.00" class="sp"/>
<line x1="280.50" y1="238.00" x2="280.50" y2="233.70" class="tk"/>
<line x1="339.47" y1="238.00" x2="339.47" y2="233.70" class="tk"/>
<line x1="398.43" y1="238.00" x2="398.43" y2="233.70" class="tk"/>
<line x1="457.40" y1="238.00" x2="457.40" y2="233.70" class="tk"/>
<rect x="271.65" y="245.00" width="194.60" height="105.00" class="sp"/>
<line x1="280.50" y1="350.00" x2="280.50" y2="345.70" class="tk"/>
<line x1="339.47" y1="350.00" x2="339.47" y2="345.70" class="tk"/>
<line x1="398.43" y1="350.00" x2="398.43" y2="345.70" class="tk"/>
<line x1="457.40" y1="350.00" x2="457.40" y2="345.70" class="tk"/>
<line x1="271.65" y1="228.40" x2="275.95" y2="228.40" class="tk"/>
<line x1="271.65" y1="179.62" x2="275.95" y2="179.62" class="tk"/>
<line x1="271.65" y1="130.84" x2="275.95" y2="130.84" class="tk"/>
<line x1="271.65" y1="82.06" x2="275.95" y2="82.06" class="tk"/>
<line x1="271.65" y1="33.28" x2="275.95" y2="33.28" class="tk"/>
<line x1="271.65" y1="255.40" x2="275.95" y2="255.40" class="tk"/>
<line x1="271.65" y1="297.28" x2="275.95" y2="297.28" class="tk"/>
<line x1="271.65" y1="339.15" x2="275.95" y2="339.15" class="tk"/>
<rect x="485.15" y="28.00" width="194.55" height="210.00" class="sp"/>
<line x1="494.05" y1="238.00" x2="494.05" y2="233.70" class="tk"/>
<line x1="553.02" y1="238.00" x2="553.02" y2="233.70" class="tk"/>
<line x1="611.98" y1="238.00" x2="611.98" y2="233.70" class="tk"/>
<line x1="670.95" y1="238.00" x2="670.95" y2="233.70" class="tk"/>
<rect x="485.15" y="245.00" width="194.55" height="105.00" class="sp"/>
<line x1="494.05" y1="350.00" x2="494.05" y2="345.70" class="tk"/>
<line x1="553.02" y1="350.00" x2="553.02" y2="345.70" class="tk"/>
<line x1="611.98" y1="350.00" x2="611.98" y2="345.70" class="tk"/>
<line x1="670.95" y1="350.00" x2="670.95" y2="345.70" class="tk"/>
<line x1="485.20" y1="228.40" x2="489.50" y2="228.40" class="tk"/>
<line x1="485.20" y1="179.62" x2="489.50" y2="179.62" class="tk"/>
<line x1="485.20" y1="130.84" x2="489.50" y2="130.84" class="tk"/>
<line x1="485.20" y1="82.06" x2="489.50" y2="82.06" class="tk"/>
<line x1="485.20" y1="33.28" x2="489.50" y2="33.28" class="tk"/>
<line x1="485.20" y1="255.40" x2="489.50" y2="255.40" class="tk"/>
<line x1="485.20" y1="297.28" x2="489.50" y2="297.28" class="tk"/>
<line x1="485.20" y1="339.15" x2="489.50" y2="339.15" class="tk"/>
<text x="149.20" y="10.60" textLength="54.86" lengthAdjust="spacingAndGlyphs" font-size="14.10">Incident</text>
<text x="269.21" y="10.60" textLength="63.40" lengthAdjust="spacingAndGlyphs" font-size="14.10">Reflected</text>
<text x="398.12" y="10.49" textLength="11.48" lengthAdjust="spacingAndGlyphs" font-size="14.10" font-style="italic">ω</text>
<text x="475.44" y="10.60" textLength="131.65" lengthAdjust="spacingAndGlyphs" font-size="14.10">Reflected - Incident</text>
<text x="43.20" y="233.55" textLength="8.65" lengthAdjust="spacingAndGlyphs" font-size="14.10">0</text>
<text x="43.51" y="184.87" textLength="8.65" lengthAdjust="spacingAndGlyphs" font-size="14.10">2</text>
<text x="43.39" y="135.63" textLength="8.65" lengthAdjust="spacingAndGlyphs" font-size="14.10">4</text>
<text x="43.32" y="87.51" textLength="8.65" lengthAdjust="spacingAndGlyphs" font-size="14.10">6</text>
<text x="43.33" y="38.83" textLength="8.65" lengthAdjust="spacingAndGlyphs" font-size="14.10">8</text>
<text x="29.64" y="261.05" textLength="21.95" lengthAdjust="spacingAndGlyphs" font-size="14.10">2.5</text>
<text x="30.43" y="302.25" textLength="20.68" lengthAdjust="spacingAndGlyphs" font-size="14.10">0.0</text>
<text x="18.96" y="344.75" textLength="32.21" lengthAdjust="spacingAndGlyphs" font-size="14.10">−2.5</text>
<text x="51.79" y="366.65" textLength="30.52" lengthAdjust="spacingAndGlyphs" font-size="14.10">0.36</text>
<text x="110.75" y="366.65" textLength="30.79" lengthAdjust="spacingAndGlyphs" font-size="14.10">0.37</text>
<text x="169.87" y="366.65" textLength="30.33" lengthAdjust="spacingAndGlyphs" font-size="14.10">0.38</text>
<text x="228.70" y="366.65" textLength="30.37" lengthAdjust="spacingAndGlyphs" font-size="14.10">0.39</text>
<text x="87.59" y="384.20" textLength="135.46" lengthAdjust="spacingAndGlyphs" font-size="14.10">Frequency Bin [PHz]</text>
<text x="265.62" y="366.65" textLength="29.96" lengthAdjust="spacingAndGlyphs" font-size="14.10">0.36</text>
<text x="324.51" y="366.65" textLength="30.36" lengthAdjust="spacingAndGlyphs" font-size="14.10">0.37</text>
<text x="383.39" y="366.65" textLength="30.01" lengthAdjust="spacingAndGlyphs" font-size="14.10">0.38</text>
<text x="442.28" y="366.65" textLength="30.27" lengthAdjust="spacingAndGlyphs" font-size="14.10">0.39</text>
<text x="301.33" y="384.20" textLength="134.77" lengthAdjust="spacingAndGlyphs" font-size="14.10">Frequency Bin [PHz]</text>
<text x="478.96" y="366.65" textLength="30.33" lengthAdjust="spacingAndGlyphs" font-size="14.10">0.36</text>
<text x="537.88" y="366.65" textLength="30.84" lengthAdjust="spacingAndGlyphs" font-size="14.10">0.37</text>
<text x="596.84" y="366.65" textLength="30.10" lengthAdjust="spacingAndGlyphs" font-size="14.10">0.38</text>
<text x="655.96" y="366.65" textLength="32.17" lengthAdjust="spacingAndGlyphs" font-size="14.10">0.39</text>
<text x="514.48" y="384.20" textLength="135.68" lengthAdjust="spacingAndGlyphs" font-size="14.10">Frequency Bin [PHz]</text>
<text transform="translate(36.21,234.76) rotate(-90)" x="0" y="0" textLength="202.33" lengthAdjust="spacingAndGlyphs" font-size="14.10">Spectral Power Density [a. u.]</text>
<text transform="translate(11.56,327.79) rotate(-90)" x="0" y="0" textLength="61.20" lengthAdjust="spacingAndGlyphs" font-size="14.10">Phase / <tspan font-style="italic">π</tspan></text>
<text x="232.84" y="48.94" textLength="9.38" lengthAdjust="spacingAndGlyphs" font-size="15.78" font-weight="bold">a</text>
<text x="446.92" y="48.00" textLength="9.94" lengthAdjust="spacingAndGlyphs" font-size="14.33" font-weight="bold">b</text>
<text x="660.03" y="48.95" textLength="8.48" lengthAdjust="spacingAndGlyphs" font-size="15.00" font-weight="bold">c</text>
<text x="232.90" y="259.40" textLength="10.22" lengthAdjust="spacingAndGlyphs" font-size="15.04" font-weight="bold">d</text>
<text x="446.07" y="260.84" textLength="10.21" lengthAdjust="spacingAndGlyphs" font-size="16.06" font-weight="bold">e</text>
<text x="659.84" y="259.79" textLength="6.41" lengthAdjust="spacingAndGlyphs" font-size="15.16" font-weight="bold">f</text>
</svg>
</body></html>
